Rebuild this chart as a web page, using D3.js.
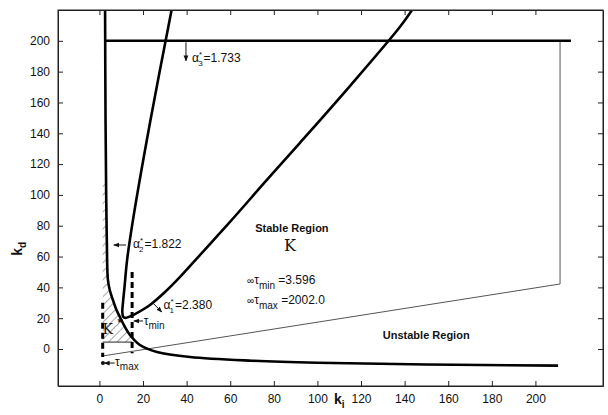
<!DOCTYPE html>
<html>
<head>
<meta charset="utf-8">
<script src="https://cdn.jsdelivr.net/npm/d3@7"></script>
<style>
  body { margin: 0; background: #fff; }
  text { font-family: "Liberation Sans", Arial, sans-serif; fill: #111; }
</style>
</head>
<body>
<div id="chart"></div>
<script>
// plot box
const margin = { top: 10, right: 5, bottom: 29, left: 58 },
    width = 608 - margin.left - margin.right,
    height = 415 - margin.top - margin.bottom;

// ticks
const xTicks = [0, 20, 40, 60, 80, 100, 120, 140, 160, 180, 200];
const yTicks = [0, 20, 40, 60, 80, 100, 120, 140, 160, 180, 200];

// boundary curves, [ki, kd]
const alpha2Curve = [[2.6, 220], [2.8, 150], [3.1, 100], [3.4, 70], [3.9, 44.8], [4.8, 38], [6.2, 31.8],
    [7.8, 25.5], [9.4, 20.8], [11.7, 14.3], [14, 9.1], [18.6, 2.6], [26.4, -1.9], [41.6, -5.2],
    [70, -7.6], [100, -8.9], [150, -10], [210.4, -10.8]];
const alpha1Curve = [[33.1, 220], [23.2, 146.8], [15.4, 83.8], [12.7, 57.8], [11.5, 40], [10.8, 30],
    [10.5, 24], [10.9, 21], [12, 20.2], [14, 21.2], [16.3, 22.7], [23.2, 28.6], [30.1, 37], [37, 46.8],
    [46.1, 61], [59.9, 82.5], [76, 108.4], [92, 133.8], [115, 170.8], [137.9, 209.1], [143.4, 220]];
const alpha3Line = [[2.6, 200], [216.3, 200]];
const thinLine = [[1.6, -4.5], [211.3, 42.2], [211.3, 200]];
const tauMinDash = [[15, 50], [15, -2.8]];
const tauMaxDash = [[1.5, 30], [1.5, -5.2]];
const hatchBottom = [[1.5, 4.5], [15, 4.5]];
const hatchTop = 110;
const starPoint = [9.4, 18.2];

const svg = d3.select("#chart").append("svg")
    .attr("width", 608)
    .attr("height", 415);

const g = svg.append("g")
    .attr("transform", `translate(${margin.left},${margin.top})`);

const x = d3.scaleLinear().domain([-19, 231]).range([0, width]);
const y = d3.scaleLinear().domain([-24, 220]).range([height, 0]);

const defs = svg.append("defs");
defs.append("clipPath").attr("id", "clip")
    .append("rect").attr("width", width).attr("height", height);

const hatch = defs.append("pattern")
    .attr("id", "hatch")
    .attr("patternUnits", "userSpaceOnUse")
    .attr("width", 6).attr("height", 6)
    .attr("patternTransform", "rotate(45)");
hatch.append("line")
    .attr("x1", 0).attr("y1", 0).attr("x2", 0).attr("y2", 6)
    .attr("stroke", "#222").attr("stroke-width", 0.8);

const arrowHead = defs.append("marker")
    .attr("id", "arrow")
    .attr("viewBox", "0 0 10 10")
    .attr("refX", 9).attr("refY", 5)
    .attr("markerWidth", 6).attr("markerHeight", 6)
    .attr("orient", "auto");
arrowHead.append("path").attr("d", "M0,1L10,5L0,9Z").attr("fill", "#111");

const line = d3.line().x(d => x(d[0])).y(d => y(d[1]));
const smooth = d3.line().x(d => x(d[0])).y(d => y(d[1])).curve(d3.curveCatmullRom);

const plot = g.append("g").attr("clip-path", "url(#clip)");

// hatched set K: between ki = 1.5 and the alpha2 curve
const hatchPoly = [hatchBottom[0], hatchBottom[1], [15, 8.2]]
    .concat(alpha2Curve.filter(d => d[1] > 8.2 && d[1] < hatchTop).reverse())
    .concat([[2.9, hatchTop], [1.5, hatchTop]]);
plot.append("path")
    .attr("d", line(hatchPoly) + "Z")
    .attr("fill", "url(#hatch)");
plot.append("path")
    .attr("d", line(hatchBottom))
    .attr("stroke", "#222").attr("stroke-width", 1).attr("fill", "none");

// thin boundary of the region
plot.append("path")
    .attr("d", line(thinLine))
    .attr("stroke", "#555").attr("stroke-width", 1).attr("fill", "none");

// thick curves
[alpha2Curve, alpha1Curve].forEach(c => {
    plot.append("path")
        .attr("d", smooth(c))
        .attr("stroke", "#000").attr("stroke-width", 2.6).attr("fill", "none");
});
plot.append("path")
    .attr("d", line(alpha3Line))
    .attr("stroke", "#000").attr("stroke-width", 2.6).attr("fill", "none");

// dashed tau lines
[tauMinDash, tauMaxDash].forEach(c => {
    plot.append("path")
        .attr("d", line(c))
        .attr("stroke", "#000").attr("stroke-width", 3)
        .attr("stroke-dasharray", "6,4").attr("fill", "none");
});

// axes box with inward ticks on all sides
const axisStyle = sel => {
    sel.select(".domain").attr("stroke", "#222");
    sel.selectAll(".tick line").attr("stroke", "#222");
    sel.selectAll("text").style("font-size", "12px").attr("fill", "#111");
};
g.append("g").attr("transform", `translate(0,${height})`)
    .call(d3.axisBottom(x).tickValues(xTicks).tickSizeInner(-5).tickSizeOuter(0).tickPadding(8))
    .call(axisStyle);
g.append("g")
    .call(d3.axisLeft(y).tickValues(yTicks).tickSizeInner(-5).tickSizeOuter(0).tickPadding(8))
    .call(axisStyle);
g.append("g")
    .call(d3.axisTop(x).tickValues(xTicks).tickSizeInner(-5).tickSizeOuter(0).tickFormat(""))
    .call(axisStyle);
g.append("g").attr("transform", `translate(${width},0)`)
    .call(d3.axisRight(y).tickValues(yTicks).tickSizeInner(-5).tickSizeOuter(0).tickFormat(""))
    .call(axisStyle);
g.append("rect").attr("width", width).attr("height", height)
    .attr("fill", "none").attr("stroke", "#222").attr("stroke-width", 1);

// axis labels
const xl = g.append("text")
    .attr("x", x(110)).attr("y", height + 18)
    .attr("text-anchor", "middle")
    .style("font-size", "14px").style("font-weight", "bold");
xl.append("tspan").text("k");
xl.append("tspan").attr("dy", 4).style("font-size", "10px").text("i");

const yl = svg.append("text")
    .attr("transform", `translate(22,${margin.top + y(65)}) rotate(-90)`)
    .attr("text-anchor", "middle")
    .style("font-size", "14px").style("font-weight", "bold");
yl.append("tspan").text("k");
yl.append("tspan").attr("dy", 4).style("font-size", "10px").text("d");

// annotations
function arrow(p0, p1) {
    g.append("line")
        .attr("x1", x(p0[0])).attr("y1", y(p0[1]))
        .attr("x2", x(p1[0])).attr("y2", y(p1[1]))
        .attr("stroke", "#111").attr("stroke-width", 1)
        .attr("marker-end", "url(#arrow)");
}

function alphaLabel(pos, sub, val) {
    const t = g.append("text").attr("x", x(pos[0])).attr("y", y(pos[1]))
        .style("font-size", "12px");
    t.append("tspan").text("α");
    t.append("tspan").attr("dy", -5).style("font-size", "8px").text("*");
    t.append("tspan").attr("dx", -4).attr("dy", 9).style("font-size", "8px").text(sub);
    t.append("tspan").attr("dx", 1).attr("dy", -4).text("=" + val);
}

arrow([39.7, 199], [39.7, 187]);
alphaLabel([42.5, 186.5], "3", "1.733");

arrow([12.2, 67.5], [6.6, 67.5]);
alphaLabel([15.4, 65.5], "2", "1.822");

arrow([24.8, 29.5], [28.6, 24]);
alphaLabel([29.4, 25.8], "1", "2.380");

g.append("text")
    .attr("x", x(88.3)).attr("y", y(76))
    .attr("text-anchor", "middle")
    .style("font-size", "11px").style("font-weight", "bold")
    .text("Stable Region");
g.append("text")
    .attr("x", x(87.4)).attr("y", y(63.5))
    .attr("text-anchor", "middle")
    .style("font-family", "'DejaVu Serif', serif")
    .style("font-size", "16px")
    .text("K");

function tauLabel(pos, sub, val) {
    const t = g.append("text").attr("x", x(pos[0])).attr("y", y(pos[1]))
        .style("font-size", "12px");
    t.append("tspan").style("font-size", "10px").text("∞");
    t.append("tspan").text("τ");
    t.append("tspan").attr("dy", 5).style("font-size", "10px").text(sub);
    t.append("tspan").attr("dy", -5).text(" =" + val);
}
tauLabel([67.7, 42.5], "min", "3.596");
tauLabel([67.7, 29.5], "max", "2002.0");

g.append("text")
    .attr("x", x(130)).attr("y", y(6.5))
    .style("font-size", "11px").style("font-weight", "bold")
    .text("Unstable Region");

// tau min / tau max pointers
arrow([20, 18.2], [15.8, 18.2]);
const tmin = g.append("text").attr("x", x(20.3)).attr("y", y(15.8)).style("font-size", "12px");
tmin.append("tspan").text("τ");
tmin.append("tspan").attr("dy", 4).style("font-size", "10px").text("min");

g.append("circle").attr("cx", x(1.6)).attr("cy", y(-9.1)).attr("r", 2).attr("fill", "#111");
arrow([7, -9.1], [2.2, -9.1]);
const tmax = g.append("text").attr("x", x(7.2)).attr("y", y(-10.8)).style("font-size", "12px");
tmax.append("tspan").text("τ");
tmax.append("tspan").attr("dy", 4).style("font-size", "10px").text("max");

// K and the marked point K*
g.append("text").attr("x", x(1.4)).attr("y", y(10))
    .style("font-family", "'DejaVu Serif', serif").style("font-size", "14px")
    .text("K");
g.append("text")
    .attr("x", x(starPoint[0])).attr("y", y(starPoint[1]) + 6)
    .attr("text-anchor", "middle")
    .style("font-size", "13px").style("font-weight", "bold")
    .text("*");
</script>
</body>
</html>
